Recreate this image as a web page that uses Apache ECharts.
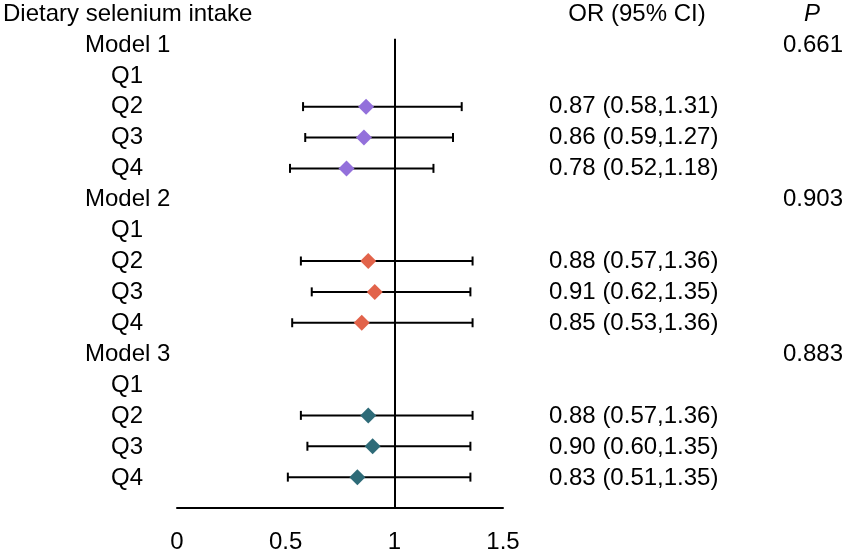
<!DOCTYPE html>
<html>
<head>
<meta charset="utf-8">
<script src="https://cdn.jsdelivr.net/npm/echarts@6/dist/echarts.min.js"></script>
<style>
  html, body { margin: 0; padding: 0; background: #fff; }
  #main { width: 850px; height: 554px; }
</style>
</head>
<body>
<div id="main"></div>
<script>
// data
const models = ['Model 1', 'Model 2', 'Model 3'];
const quartiles = ['Q1', 'Q2', 'Q3', 'Q4'];
const orValues = [[0.87, 0.86, 0.78], [0.88, 0.91, 0.85], [0.88, 0.90, 0.83]];
const ciLow = [[0.58, 0.59, 0.52], [0.57, 0.62, 0.53], [0.57, 0.60, 0.51]];
const ciHigh = [[1.31, 1.27, 1.18], [1.36, 1.35, 1.36], [1.36, 1.35, 1.35]];
const pValues = ['0.661', '0.903', '0.883'];
const xTicks = [0, 0.5, 1, 1.5];
const refValue = 1;

const colors = ['#9370DB', '#E2634A', '#2E6B78'];
const FONT = "'Liberation Sans', Arial, sans-serif";

let chart = echarts.init(document.getElementById('main'));

// row index: 0 = header, model k at 1+5k, quartile j at 1+5k+j
let whiskers = [];
let points = [];
let textRows = [];
models.forEach(function (m, k) {
  const base = 1 + 5 * k;
  textRows.push({ value: [85, base], text: m });
  textRows.push({ value: [843, base], text: pValues[k], right: true });
  quartiles.forEach(function (q, j) {
    textRows.push({ value: [111, base + 1 + j], text: q });
  });
  orValues[k].forEach(function (v, i) {
    const row = base + 2 + i;
    whiskers.push([ciLow[k][i], ciHigh[k][i], row]);
    points.push({ value: [v, row], itemStyle: { color: colors[k] } });
    textRows.push({
      value: [549, row],
      text: v.toFixed(2) + ' (' + ciLow[k][i].toFixed(2) + ',' + ciHigh[k][i].toFixed(2) + ')'
    });
  });
});

const textData = textRows.map(function (t) {
  return {
    value: t.value,
    label: {
      formatter: t.text,
      align: t.right ? 'right' : 'left'
    }
  };
});

const headerData = [
  { value: [3, 0], label: { formatter: 'Dietary selenium intake', align: 'left' } },
  { value: [637, 0], label: { formatter: 'OR (95% CI)', align: 'center' } },
  { value: [812, 0], label: { formatter: 'P', align: 'center', fontStyle: 'italic' } }
];

const yCommon = { type: 'value', min: 0, max: 16, inverse: true, show: false };

var option = {
  animation: false,
  grid: [
    { left: 177, right: 347, top: 14, bottom: 45 },
    { left: 0, right: 0, top: 14, bottom: 45 }
  ],
  xAxis: [
    {
      type: 'value', gridIndex: 0, min: 0, max: 1.5, interval: 0.5,
      position: 'bottom',
      axisLine: { show: true, onZero: false, lineStyle: { color: '#000', width: 2 } },
      axisTick: { show: false },
      splitLine: { show: false },
      axisLabel: {
        color: '#000', fontSize: 24, fontFamily: FONT, margin: 22,
        formatter: function (v) { return xTicks.indexOf(v) >= 0 ? String(v) : ''; }
      }
    },
    { type: 'value', gridIndex: 1, min: 0, max: 850, show: false }
  ],
  yAxis: [
    Object.assign({ gridIndex: 0 }, yCommon),
    Object.assign({ gridIndex: 1 }, yCommon)
  ],
  series: [
    {
      type: 'custom',
      xAxisIndex: 0, yAxisIndex: 0,
      data: whiskers,
      z: 2,
      renderItem: function (params, api) {
        const a = api.coord([api.value(0), api.value(2)]);
        const b = api.coord([api.value(1), api.value(2)]);
        const h = 4.5;
        const st = { stroke: '#000', lineWidth: 2 };
        return {
          type: 'group',
          children: [
            { type: 'line', shape: { x1: a[0], y1: a[1], x2: b[0], y2: b[1] }, style: st },
            { type: 'line', shape: { x1: a[0], y1: a[1] - h, x2: a[0], y2: a[1] + h }, style: st },
            { type: 'line', shape: { x1: b[0], y1: b[1] - h, x2: b[0], y2: b[1] + h }, style: st }
          ]
        };
      },
      markLine: {
        silent: true,
        symbol: 'none',
        label: { show: false },
        lineStyle: { color: '#000', width: 2, type: 'solid' },
        data: [[{ coord: [refValue, 0.8] }, { coord: [refValue, 16] }]]
      }
    },
    {
      type: 'scatter',
      xAxisIndex: 0, yAxisIndex: 0,
      symbol: 'diamond',
      symbolSize: [16, 16],
      itemStyle: { opacity: 1 },
      z: 5,
      data: points
    },
    {
      type: 'scatter',
      xAxisIndex: 1, yAxisIndex: 1,
      symbolSize: 0,
      silent: true,
      itemStyle: { opacity: 1 },
      label: {
        show: true, position: [0, 0], verticalAlign: 'middle',
        color: '#000', fontSize: 24, fontFamily: FONT
      },
      data: textData.concat(headerData)
    }
  ]
};
chart.setOption(option);
</script>
</body>
</html>
